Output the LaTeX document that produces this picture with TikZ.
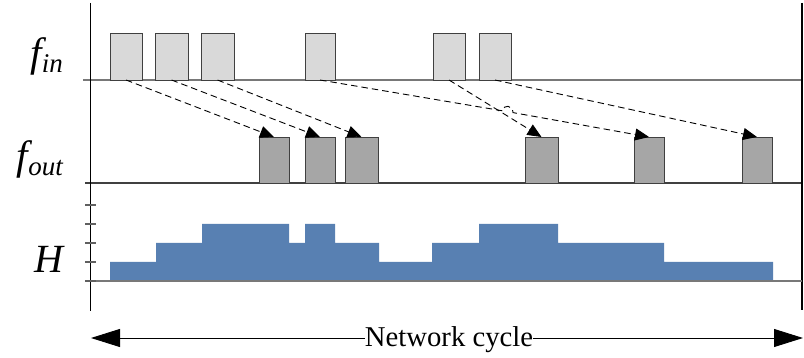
\documentclass[tikz,border=0pt]{standalone}
\usepackage{fontspec}
\setmainfont{Liberation Serif}
\usetikzlibrary{arrows.meta}

\definecolor{inFill}{RGB}{217,217,217}
\definecolor{outFill}{RGB}{166,166,166}
\definecolor{edgeGray}{RGB}{64,64,64}
\definecolor{baseGray}{RGB}{120,120,120}
\definecolor{hBlue}{RGB}{88,128,178}

\tikzset{
  inbox/.style={draw=edgeGray, fill=inFill, line width=0.8pt, inner sep=0pt, outer sep=0pt,
    minimum height=47pt, anchor=south west},
  outbox/.style={draw=edgeGray, fill=outFill, line width=0.8pt, inner sep=0pt, outer sep=0pt,
    minimum height=46pt, anchor=south west},
  baseline/.style={draw=baseGray, line width=1.3pt},
  tickmark/.style={draw=baseGray!80!black, line width=1.1pt},
  axis/.style={draw=black, line width=1pt},
  flow/.style={draw=black, line width=0.9pt, dash pattern=on 6.5pt off 4pt,
    -{Triangle[length=14pt,width=12pt]}},
  rowlabel/.style={anchor=base east, inner sep=0pt},
}

\begin{document}
\begin{tikzpicture}[x=1pt, y=-1pt]
  \useasboundingbox (0,0) rectangle (804,358);

  % axes and row baselines
  \draw[baseline] (83,80) -- (802,80);
  \draw[baseline, draw=black!75] (85,183) -- (802,183);
  \draw[axis] (90,3) -- (90,311);
  \draw[axis, line width=1.3pt] (802,3) -- (802,310);

  % occupancy profile H
  \fill[hBlue] (110,281) -- (110,262) -- (156,262) -- (156,243) -- (202,243) -- (202,224)
    -- (289,224) -- (289,243) -- (305,243) -- (305,224) -- (335,224) -- (335,243)
    -- (379,243) -- (379,262) -- (432,262) -- (432,243) -- (479,243) -- (479,224)
    -- (558,224) -- (558,243) -- (664,243) -- (664,262) -- (773,262) -- (773,281) -- cycle;
  \draw[baseline] (85,281) -- (802,281);
  \foreach \y in {205,224,243,262,281}
    \draw[tickmark] (85,\y) -- (96,\y);

  % input frames
  \node[inbox, minimum width=32pt] (in1) at (110,80) {};
  \node[inbox, minimum width=33pt] (in2) at (155,80) {};
  \node[inbox, minimum width=33pt] (in3) at (201,80) {};
  \node[inbox, minimum width=30pt] (in4) at (305,80) {};
  \node[inbox, minimum width=32pt] (in5) at (433,80) {};
  \node[inbox, minimum width=32pt] (in6) at (479,80) {};

  % output frames
  \node[outbox, minimum width=30pt] (out1) at (259,183) {};
  \node[outbox, minimum width=30pt] (out2) at (305,183) {};
  \node[outbox, minimum width=33pt] (out3) at (345,183) {};
  \node[outbox, minimum width=33pt] (out4) at (525,183) {};
  \node[outbox, minimum width=30pt] (out5) at (634,183) {};
  \node[outbox, minimum width=30pt] (out6) at (742,183) {};

  % forwarding of each frame
  \draw[flow] (in1.south) -- (out1.north);
  \draw[flow] (in2.south) -- (out2.north);
  \draw[flow] (in3.south) -- (out3.north);
  \draw[flow] (in5.south) -- (out4.north);
  \draw[flow] (in6.south) -- (out6.north);
  % this one jumps over the crossing line
  \coordinate (hopA) at (503,110.9);
  \coordinate (hopB) at (513,112.6);
  \draw[flow] (in4.south) -- (hopA) .. controls (503,104) and (513,105) .. (hopB) -- (out5.north);

  % row labels
  \node[rowlabel] (lin) at (63,67)
    {\fontsize{41}{41}\selectfont\itshape f\raisebox{-6pt}{\fontsize{27}{27}\selectfont in}};
  \node[rowlabel] (lout) at (63,170)
    {\fontsize{41}{41}\selectfont\itshape f\raisebox{-6pt}{\fontsize{27}{27}\selectfont out}};
  \node[rowlabel] (lh) at (64,273) {\fontsize{40}{40}\selectfont\itshape H};

  % network cycle span
  \coordinate (cycL) at (91,338);
  \coordinate (cycR) at (803,338);
  \draw[line width=0.9pt, {Triangle[length=29pt,width=18pt]}-{Triangle[length=29pt,width=18pt]}]
    (cycL) -- (cycR);
  \node[fill=white, inner xsep=0pt, inner ysep=2pt, anchor=base] (cyc) at (449,347)
    {\fontsize{28.7}{30}\selectfont Network cycle};
\end{tikzpicture}
\end{document}
